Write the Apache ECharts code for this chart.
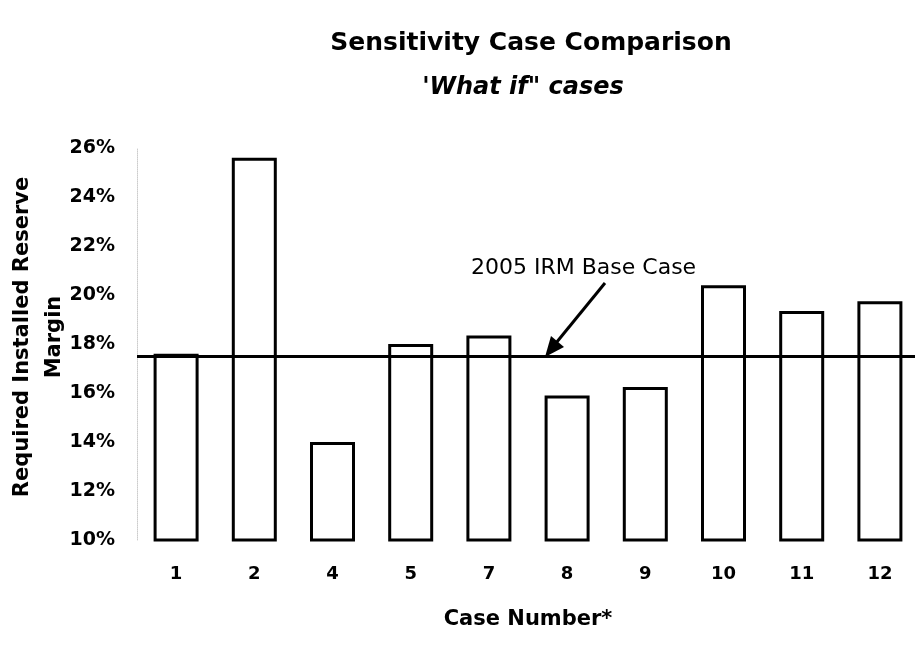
<!DOCTYPE html>
<html>
<head>
<meta charset="utf-8">
<script src="https://cdn.jsdelivr.net/npm/echarts@6/dist/echarts.min.js"></script>
<style>
  html, body { margin: 0; padding: 0; background: #fff; }
  #chart-container { width: 915px; height: 665px; }
</style>
</head>
<body>
<div id="chart-container"></div>
<script>
var dom = document.getElementById("chart-container");
var myChart = echarts.init(dom, null, { renderer: "canvas" });

// case numbers along the x axis
var caseNumbers = ["1", "2", "4", "5", "7", "8", "9", "10", "11", "12"];
// required installed reserve margin, percent
var reserveMargin = [17.6, 25.6, 14.0, 18.0, 18.35, 15.9, 16.25, 20.4, 19.35, 19.75];
// 2005 base case IRM
var baseCase = 17.5;

var font = "DejaVu Sans, Arial, sans-serif";

var option = {
  backgroundColor: "#fff",
  title: [
    {
      text: "Sensitivity Case Comparison",
      left: 526,
      textAlign: "center",
      top: 26,
      textStyle: { fontFamily: font, fontWeight: "bold", fontSize: 25, color: "#000" }
    },
    {
      text: "'What if\" cases",
      left: 518,
      textAlign: "center",
      top: 71,
      textStyle: { fontFamily: font, fontWeight: "bold", fontStyle: "italic", fontSize: 24, color: "#000" }
    }
  ],
  grid: {
    left: 137,
    top: 148,
    width: 782,
    height: 392,
    outerBoundsMode: "none"
  },
  xAxis: {
    type: "category",
    data: caseNumbers,
    name: "Case Number*",
    nameLocation: "middle",
    nameGap: 69,
    nameTextStyle: { fontFamily: font, fontWeight: "bold", fontSize: 21, color: "#000" },
    axisLine: { show: false },
    axisTick: { show: false },
    axisLabel: { fontFamily: font, fontWeight: "bold", fontSize: 18, color: "#000", margin: 25 }
  },
  yAxis: {
    type: "value",
    min: 10,
    max: 26,
    interval: 2,
    name: "Required Installed Reserve\nMargin",
    nameLocation: "middle",
    nameGap: 66,
    nameMoveOverlap: false,
    nameRotate: 90,
    nameTextStyle: { fontFamily: font, fontWeight: "bold", fontSize: 21, color: "#000", lineHeight: 32, padding: [0, 0, 0, 14] },
    axisLine: { show: true, lineStyle: { color: "#ccc", type: "dotted", width: 1 } },
    axisTick: { show: false },
    splitLine: { show: false },
    axisLabel: {
      fontFamily: font, fontWeight: "bold", fontSize: 19, color: "#000", margin: 22,
      formatter: function (v) { return v + "%"; }
    }
  },
  series: [
    {
      name: "IRM",
      type: "bar",
      data: reserveMargin,
      barWidth: 45,
      itemStyle: { color: "#fff", borderColor: "#000", borderWidth: 3 },
      markLine: {
        silent: true,
        symbol: ["none", "none"],
        label: { show: false },
        lineStyle: { color: "#000", type: "solid", width: 3 },
        data: [{ yAxis: baseCase }]
      },
      z: 2
    }
  ],
  graphic: [
    {
      type: "text",
      left: 471,
      top: 257,
      style: { text: "2005 IRM Base Case", font: "22px " + font, fill: "#000" }
    },
    {
      type: "line",
      shape: { x1: 605, y1: 283, x2: 556, y2: 343 },
      style: { stroke: "#000", lineWidth: 3 }
    },
    {
      type: "polygon",
      shape: { points: [[545, 357], [551, 336], [564, 347]] },
      style: { fill: "#000" }
    }
  ]
};

myChart.setOption(option);
window.addEventListener("resize", myChart.resize);
</script>
</body>
</html>
